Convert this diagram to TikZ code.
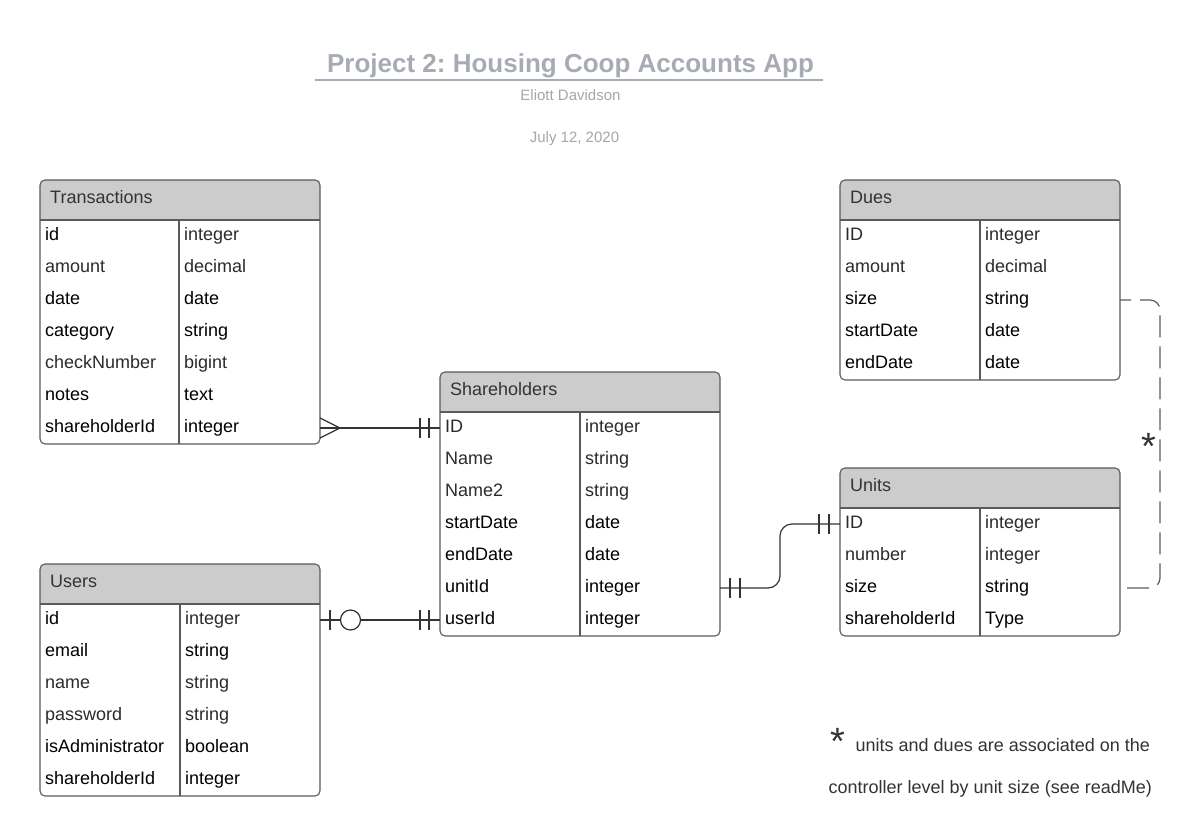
\documentclass[tikz,border=0pt]{standalone}
\usepackage{fontspec}
\setmainfont{Liberation Sans}
\frenchspacing
\definecolor{hdr}{HTML}{CCCCCC}
\definecolor{tb}{HTML}{000000}
\definecolor{tg}{HTML}{2B2B2B}
\definecolor{bord}{HTML}{5A5A5A}
\definecolor{conc}{HTML}{333333}
\definecolor{titlec}{HTML}{A7ACB4}
\definecolor{subc}{HTML}{A3A7AD}
\tikzset{
  tblbox/.style={draw=bord, line width=1.1pt, rounded corners=5pt, minimum width=280pt, inner sep=0pt, outer sep=0pt},
  tblline/.style={draw=bord, line width=1.1pt},
  rowbox/.style={minimum width=280pt, minimum height=32pt, inner sep=0pt, outer sep=0pt},
  celltxt/.style={anchor=base west, inner sep=0pt, font=\fontsize{18}{22}\selectfont},
  hdrtxt/.style={anchor=base west, inner sep=0pt, text=conc, font=\fontsize{18}{22}\selectfont},
  conn/.style={draw=conc, line width=1.2pt},
  dashconn/.style={draw=conc!80, line width=1.2pt, dash pattern=on 22pt off 9pt, dash phase=11pt},
  note/.style={anchor=base west, inner sep=0pt, text=conc, font=\fontsize{18}{22}\selectfont},
  star/.style={anchor=base west, inner sep=0pt, text=conc, font=\fontsize{38}{40}\selectfont},
}
\newcommand{\ertable}[7]{%
  % #1 prefix, #2 x, #3 top y, #4 divider offset, #5 rows, #6 title, #7 rows list
  \begin{scope}
    \clip[rounded corners=5pt] (#2,#3) rectangle ++(280,40+32*#5);
    \fill[hdr] (#2,#3) rectangle ++(280,40);
  \end{scope}
  \node[tblbox, minimum height={40+32*#5}] (#1) at (#2+140,#3+20+16*#5) {};
  \draw[tblline] (#2,#3+40) -- ++(280,0);
  \draw[tblline] (#2+#4,#3+40) -- (#2+#4,#3+40+32*#5);
  \node[hdrtxt] (#1-title) at (#2+10,#3+23.5) {#6};
  \foreach \f/\t/\ca/\cb [count=\i] in {#7} {
    \node[rowbox] (#1\i) at (#2+140,#3+24+32*\i) {};
    \node[celltxt, text=\ca] (#1\i-n) at (#2+5,#3+28.5+32*\i) {\f};
    \node[celltxt, text=\cb] (#1\i-t) at (#2+#4+5,#3+28.5+32*\i) {\t};
  }
}
\begin{document}
\begin{tikzpicture}[x=1pt,y=-1pt]
\useasboundingbox (0,0) rectangle (1200,840);
\fill[white] (0,0) rectangle (1200,840);

% title block
\node[anchor=base, inner sep=0pt, text=titlec, font=\bfseries\fontsize{26}{30}\selectfont] (title) at (570.5,72.5) {Project 2: Housing Coop Accounts App};
\coordinate (ulL) at (315,80.5);
\coordinate (ulR) at (823,80.5);
\draw[titlec, line width=2pt] (ulL) -- (ulR);
\node[anchor=base, inner sep=0pt, text=subc, font=\fontsize{15}{18}\selectfont] (author) at (570.5,101) {Eliott Davidson};
\node[anchor=base, inner sep=0pt, text=subc, font=\fontsize{15}{18}\selectfont] (date) at (574.5,142.5) {July 12, 2020};

% tables
\ertable{tr}{40}{180}{139}{7}{Transactions}{id/integer/tb/tg, amount/decimal/tg/tg, date/date/tb/tb, category/string/tb/tb, checkNumber/bigint/tg/tg, notes/text/tb/tb, shareholderId/integer/tb/tb}
\ertable{sh}{440}{372}{140}{7}{Shareholders}{ID/integer/tg/tg, Name/string/tg/tg, Name2/string/tg/tg, startDate/date/tb/tb, endDate/date/tb/tb, unitId/integer/tb/tb, userId/integer/tb/tb}
\ertable{us}{40}{564}{140}{6}{Users}{id/integer/tb/tg, email/string/tb/tb, name/string/tg/tg, password/string/tg/tg, isAdministrator/boolean/tb/tb, shareholderId/integer/tb/tb}
\ertable{du}{840}{180}{140}{5}{Dues}{ID/integer/tg/tg, amount/decimal/tg/tg, size/string/tb/tb, startDate/date/tb/tb, endDate/date/tb/tb}
\ertable{un}{840}{468}{140}{4}{Units}{ID/integer/tg/tg, number/integer/tg/tg, size/string/tb/tb, shareholderId/Type/tb/tb}

% Transactions (many) -- Shareholders (one)
\draw[conn] (tr7.east) -- (sh1.west);
\draw[conn] ([yshift=10pt]tr7.east) -- ([xshift=20pt]tr7.east) -- ([yshift=-10pt]tr7.east);
\draw[conn] ([xshift=-20pt,yshift=10pt]sh1.west) -- ([xshift=-20pt,yshift=-10pt]sh1.west);
\draw[conn] ([xshift=-11pt,yshift=10pt]sh1.west) -- ([xshift=-11pt,yshift=-10pt]sh1.west);

% Users (zero or one) -- Shareholders (one)
\draw[conn] (us1.east) -- (sh7.west);
\draw[conn] ([xshift=10pt,yshift=10pt]us1.east) -- ([xshift=10pt,yshift=-10pt]us1.east);
\draw[conn, fill=white] ([xshift=30.5pt]us1.east) circle (10);
\draw[conn] ([xshift=-20pt,yshift=10pt]sh7.west) -- ([xshift=-20pt,yshift=-10pt]sh7.west);
\draw[conn] ([xshift=-11pt,yshift=10pt]sh7.west) -- ([xshift=-11pt,yshift=-10pt]sh7.west);

% Shareholders (one) -- Units (one)
\draw[conn, rounded corners=12pt] (sh6.east) -- ++(60,0) |- (un1.west);
\draw[conn] ([xshift=10pt,yshift=10pt]sh6.east) -- ([xshift=10pt,yshift=-10pt]sh6.east);
\draw[conn] ([xshift=20pt,yshift=10pt]sh6.east) -- ([xshift=20pt,yshift=-10pt]sh6.east);
\draw[conn] ([xshift=-21pt,yshift=10pt]un1.west) -- ([xshift=-21pt,yshift=-10pt]un1.west);
\draw[conn] ([xshift=-11pt,yshift=10pt]un1.west) -- ([xshift=-11pt,yshift=-10pt]un1.west);

% Dues -- Units (dashed, controller level)
\draw[dashconn, rounded corners=10pt] (du3.east) -- ++(40,0) |- (un3.east);
\node[star] (midstar) at (1141.5,459) {*};

% footnote
\node[star] (notestar) at (830.5,754) {*};
\node[note] (note1) at (855.5,751.7) {units and dues are associated on the};
\node[note] (note2) at (828.5,793.3) {controller level by unit size (see readMe)};
\end{tikzpicture}
\end{document}
